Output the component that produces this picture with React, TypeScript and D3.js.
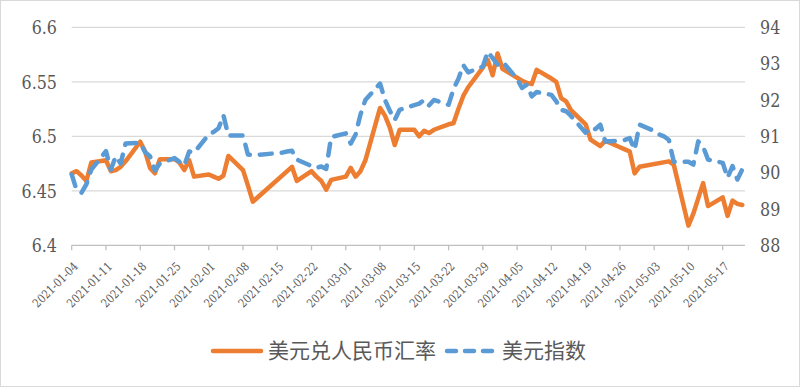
import * as d3 from 'd3'
import { useEffect, useRef } from 'react'

// weekdays from 2021-01-04 to 2021-05-21, one row per week (Mon..Fri)
const firstDay = new Date(2021, 0, 4)
const lastDay = new Date(2021, 4, 21)
const lastTick = new Date(2021, 4, 17)

// USD/CNY rate (left axis), null = no trading that day
const cnyRate = [
  6.466, 6.468, 6.464, 6.459, 6.476,
  6.478, 6.468, 6.469, 6.472, 6.477,
  6.495, 6.486, 6.471, 6.466, 6.479,
  6.479, 6.476, 6.469, 6.478, 6.463,
  6.465, 6.463, 6.461, 6.464, 6.482,
  6.469, 6.455, 6.440, null, null,
  null, null, null, 6.472, 6.459,
  6.468, 6.463, 6.459, 6.451, 6.460,
  6.463, 6.471, 6.463, 6.468, 6.478,
  6.526, 6.519, 6.508, 6.492, 6.506,
  6.506, 6.500, 6.505, 6.503, 6.506,
  6.511, 6.512, 6.525, 6.537, 6.545,
  6.563, 6.570, 6.556, 6.576, 6.562,
  null, 6.551, 6.549, 6.548, 6.561,
  6.553, 6.550, 6.535, 6.532, 6.524,
  6.511, 6.497, 6.494, 6.491, 6.496,
  6.490, 6.488, 6.486, 6.466, 6.472,
  null, null, null, 6.477, 6.474,
  6.418, 6.429, 6.443, 6.457, 6.436,
  6.444, 6.427, 6.441, 6.438, 6.437,
]

// US dollar index (right axis)
const usdIndex = [
  89.95, 89.52, 89.45, 89.68, 90.08,
  90.59, 90.08, 90.45, 90.25, 90.80,
  90.82, 90.56, 90.45, 90.06, 90.25,
  90.40, 90.30, 90.20, 90.58, 90.55,
  91.05, 91.12, 91.22, 91.58, 91.02,
  91.02, 90.50, 90.48, 90.49, 90.50,
  null, 90.55, 90.58, 90.60, 90.36,
  90.18, 90.13, 90.17, 90.10, 90.98,
  91.08, 90.80, 91.05, 91.60, 92.00,
  92.45, 92.00, 91.70, 91.45, 91.73,
  91.86, 91.90, 92.00, 91.85, 92.00,
  91.87, 92.30, 92.58, 92.96, 92.76,
  92.92, 93.33, 93.15, 92.97, 93.06,
  92.58, 92.33, 92.42, 92.10, 92.22,
  92.14, 91.96, 91.73, 91.69, 91.56,
  91.10, 91.23, 91.20, 91.32, 90.86,
  90.88, 90.90, 90.95, 90.63, 91.32,
  91.15, 91.05, 91.00, 90.90, 90.30,
  90.30, 90.22, 90.86, 90.72, 90.36,
  90.27, 89.86, 90.18, 89.81, 90.09,
]

const leftTicks = [6.4, 6.45, 6.5, 6.55, 6.6]
const rightTicks = [88, 89, 90, 91, 92, 93, 94]
const seriesNames = ['美元兑人民币汇率', '美元指数']

const ORANGE = '#ED7D31'
const BLUE = '#5B9BD5'
const GRID = '#d9d9d9'
const TEXT = '#595959'
// DejaVu Serif is the only serif face here; it runs wide, so it gets squeezed a bit
const SERIF = 'DejaVu Serif'
const SQUEEZE = 0.84

export default function App() {
  const ref = useRef<SVGSVGElement>(null)
  const width = 800
  const height = 387

  useEffect(() => {
    const svg = d3.select(ref.current)
    svg.selectAll('*').remove()

    const left = 71.7, right = 745, top = 27.3, bottom = 245.3

    const days = d3.timeDay.range(firstDay, d3.timeDay.offset(lastDay, 1))
      .filter(d => d.getDay() !== 0 && d.getDay() !== 6)

    const x = d3.scaleTime().domain([firstDay, lastTick]).range([left, 722.7])
    const yL = d3.scaleLinear().domain([6.4, 6.6]).range([bottom, top])
    const yR = d3.scaleLinear().domain([88, 94]).range([bottom, top])

    svg.append('rect')
      .attr('x', 0.5).attr('y', 0.5)
      .attr('width', width - 1).attr('height', height - 1)
      .attr('fill', '#fff').attr('stroke', GRID)

    // gridlines from left axis
    svg.append('g').selectAll('line')
      .data(leftTicks.slice(1))
      .join('line')
      .attr('x1', left).attr('x2', right)
      .attr('y1', d => yL(d)).attr('y2', d => yL(d))
      .attr('stroke', GRID).attr('stroke-width', 1.3)

    // x axis line + ticks
    svg.append('line')
      .attr('x1', left).attr('x2', right)
      .attr('y1', bottom).attr('y2', bottom)
      .attr('stroke', '#bfbfbf').attr('stroke-width', 1.3)

    const tickDates = d3.timeMonday.range(firstDay, d3.timeDay.offset(lastTick, 1))
    const fmt = d3.timeFormat('%Y-%m-%d')

    svg.append('g').selectAll('line')
      .data(tickDates)
      .join('line')
      .attr('x1', d => x(d)).attr('x2', d => x(d))
      .attr('y1', bottom).attr('y2', bottom + 5)
      .attr('stroke', '#bfbfbf').attr('stroke-width', 1.3)

    svg.append('g').selectAll('text')
      .data(tickDates)
      .join('text')
      .attr('transform', d => `translate(${x(d) + 4},${bottom + 19}) rotate(-45) scale(${SQUEEZE},1)`)
      .attr('text-anchor', 'end')
      .attr('dy', '0.35em')
      .attr('font-family', SERIF)
      .attr('font-size', 12)
      .attr('fill', TEXT)
      .text(d => fmt(d))

    // left axis labels
    svg.append('g').selectAll('text')
      .data(leftTicks)
      .join('text')
      .attr('transform', d => `translate(57,${yL(d)}) scale(${SQUEEZE},1)`)
      .attr('dy', '0.36em')
      .attr('text-anchor', 'end')
      .attr('font-family', SERIF)
      .attr('font-size', 19)
      .attr('fill', TEXT)
      .text(d => String(d))

    // right axis labels
    svg.append('g').selectAll('text')
      .data(rightTicks)
      .join('text')
      .attr('transform', d => `translate(760,${yR(d)}) scale(${SQUEEZE},1)`)
      .attr('dy', '0.36em')
      .attr('font-family', SERIF)
      .attr('font-size', 19)
      .attr('fill', TEXT)
      .text(d => String(d))

    const cnyPts = days.map((d, i) => [d, cnyRate[i]] as [Date, number | null])
      .filter(p => p[1] != null) as [Date, number][]
    const usdPts = days.map((d, i) => [d, usdIndex[i]] as [Date, number | null])
      .filter(p => p[1] != null) as [Date, number][]

    const lineL = d3.line<[Date, number]>().x(d => x(d[0])).y(d => yL(d[1]))
    const lineR = d3.line<[Date, number]>().x(d => x(d[0])).y(d => yR(d[1]))

    svg.append('path')
      .attr('d', lineL(cnyPts))
      .attr('fill', 'none')
      .attr('stroke', ORANGE)
      .attr('stroke-width', 4.5)
      .attr('stroke-linejoin', 'round')
      .attr('stroke-linecap', 'round')

    svg.append('path')
      .attr('d', lineR(usdPts))
      .attr('fill', 'none')
      .attr('stroke', BLUE)
      .attr('stroke-width', 4.5)
      .attr('stroke-dasharray', '12,10')
      .attr('stroke-linejoin', 'round')
      .attr('stroke-linecap', 'round')

    // legend
    const lg = svg.append('g')
    const ly = 351
    lg.append('line')
      .attr('x1', 213).attr('x2', 261).attr('y1', ly).attr('y2', ly)
      .attr('stroke', ORANGE).attr('stroke-width', 4.5).attr('stroke-linecap', 'round')
    lg.append('text')
      .attr('x', 268).attr('y', ly).attr('dy', '0.35em')
      .attr('font-family', 'Noto Sans CJK SC')
      .attr('font-size', 21)
      .attr('fill', TEXT)
      .text(seriesNames[0])
    lg.append('line')
      .attr('x1', 447).attr('x2', 497).attr('y1', ly).attr('y2', ly)
      .attr('stroke', BLUE).attr('stroke-width', 4.5)
      .attr('stroke-dasharray', '9,9').attr('stroke-linecap', 'round')
    lg.append('text')
      .attr('x', 502).attr('y', ly).attr('dy', '0.35em')
      .attr('font-family', 'Noto Sans CJK SC')
      .attr('font-size', 21)
      .attr('fill', TEXT)
      .text(seriesNames[1])
  }, [])

  return (
    <svg ref={ref} width={width} height={height}
      style={{ position: 'absolute', left: 0, top: 0, background: '#fff' }} />
  )
}
